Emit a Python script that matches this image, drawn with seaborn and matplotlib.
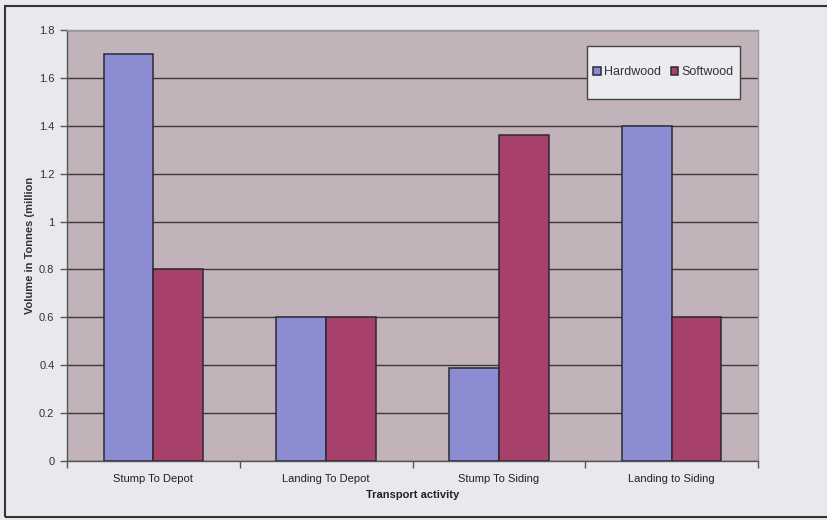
import matplotlib
matplotlib.use("Agg")
import matplotlib.pyplot as plt
import seaborn as sns
import pandas as pd
from matplotlib.patches import Rectangle

categories = ["Stump To Depot", "Landing To Depot", "Stump To Siding", "Landing to Siding"]
hardwood = [1.7, 0.6, 0.39, 1.4]
softwood = [0.8, 0.6, 1.36, 0.6]
series = ["Hardwood", "Softwood"]
yticks = [0, 0.2, 0.4, 0.6, 0.8, 1, 1.2, 1.4, 1.6, 1.8]
ytick_labels = ["0", "0.2", "0.4", "0.6", "0.8", "1", "1.2", "1.4", "1.6", "1.8"]

df = pd.DataFrame({
    "activity": categories * 2,
    "wood": [series[0]] * len(categories) + [series[1]] * len(categories),
    "volume": hardwood + softwood,
})

sns.set_theme(style="white")
plt.rcParams["font.family"] = ["Liberation Sans", "DejaVu Sans"]

fig = plt.figure(figsize=(8.28, 5.2), dpi=100)
fig.patch.set_facecolor("#e9e9ed")
ax = fig.add_axes([67 / 828, 1 - 461 / 520, (758 - 67) / 828, (461 - 30) / 520])
ax.set_facecolor("#c2b3ba")

palette = {"Hardwood": "#8c8cd2", "Softwood": "#a8406c"}
sns.barplot(data=df, x="activity", y="volume", hue="wood", order=categories,
            hue_order=series, palette=palette, width=0.575, saturation=1,
            edgecolor="#2a2a35", linewidth=1.1, ax=ax, zorder=3)

ax.set_ylim(0, 1.8)
ax.set_xlim(-0.5, len(categories) - 0.5)
ax.set_yticks(yticks)
ax.set_yticklabels(ytick_labels)
ax.yaxis.grid(True, color="#3a3a3a", linewidth=1.0, zorder=1)
ax.set_axisbelow(True)
ax.xaxis.grid(False)

# category labels sit between boundary tick marks
ax.set_xticks(range(len(categories)))
ax.set_xticklabels(categories)
ax.set_xticks([i - 0.5 for i in range(len(categories) + 1)], minor=True)
ax.tick_params(axis="x", which="major", length=0, pad=9, labelsize=8, labelcolor="#222222")
ax.tick_params(axis="x", which="minor", length=5, width=1, color="#555555", direction="out", bottom=True)
ax.tick_params(axis="y", which="major", length=5, width=1, color="#555555", direction="out",
               left=True, labelsize=8, labelcolor="#333333", pad=4)

for side in ["top", "right"]:
    ax.spines[side].set_color("#9a9a9a")
    ax.spines[side].set_linewidth(1)
ax.spines["left"].set_color("#555555")
ax.spines["bottom"].set_color("#555555")
ax.spines["left"].set_linewidth(1)
ax.spines["bottom"].set_linewidth(1)

ax.set_xlabel("Transport activity", fontsize=8, fontweight="bold", color="#222222", labelpad=5)
ax.set_ylabel("Volume in Tonnes (million", fontsize=8, fontweight="bold", color="#333333", labelpad=3)

# legend box drawn as its own rectangle, entries centred inside it
lx0, lx1 = (587 - 67) / 691, (740 - 67) / 691
ly1, ly0 = 1 - (46 - 30) / 431, 1 - (99 - 30) / 431
ax.add_patch(Rectangle((lx0, ly0), lx1 - lx0, ly1 - ly0, transform=ax.transAxes,
                       facecolor="#ececf0", edgecolor="#444444", linewidth=1, zorder=5))
leg = ax.legend(loc="center", bbox_to_anchor=((lx0 + lx1) / 2, (ly0 + ly1) / 2),
                ncol=2, fontsize=9, frameon=False, handlelength=0.6,
                handleheight=0.6, handletextpad=0.25, columnspacing=0.8,
                borderpad=0, borderaxespad=0)
leg.set_zorder(6)
for t in leg.get_texts():
    t.set_color("#333333")

# outer chart frame
fig.patches.append(Rectangle((5 / 828, 3 / 520), 1.0, 511 / 520, transform=fig.transFigure,
                             fill=False, edgecolor="#333333", linewidth=1.5, zorder=0))

fig.savefig("out.png", dpi=100, facecolor=fig.get_facecolor())
